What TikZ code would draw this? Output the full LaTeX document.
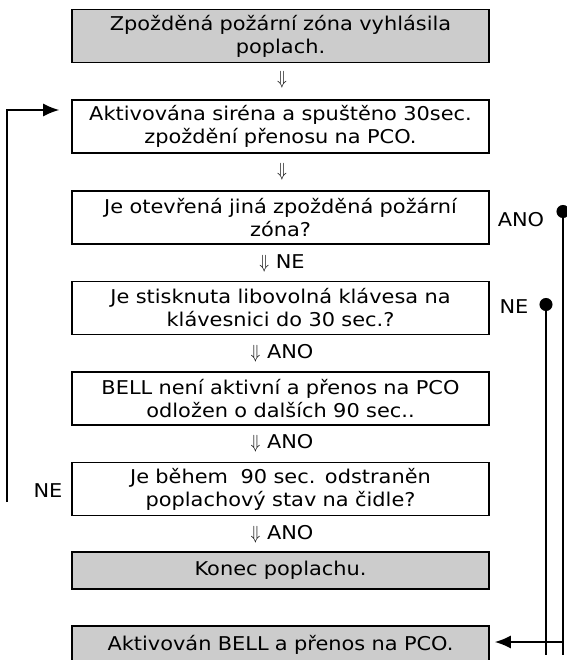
\documentclass[tikz,border=0pt]{standalone}
\usepackage{fontspec}
\usepackage{graphicx}
\setmainfont{DejaVu Sans}[FakeStretch=1.1]
\usetikzlibrary{arrows.meta}
\definecolor{boxgray}{RGB}{204,204,204}
\newcommand{\dn}{\scalebox{1.6}[1.9]{\fontsize{10}{12}\selectfont$\Downarrow$}}
\tikzset{
  stepbox/.style={draw, line width=1.6pt, minimum width=417pt, minimum height=53pt,
    text width=410pt, align=center, inner sep=0pt, font=\fontsize{19}{23}\selectfont},
  endbox/.style={stepbox, fill=boxgray, minimum height=37pt},
  lbl/.style={font=\fontsize{19}{23}\selectfont, inner sep=0pt},
}
\begin{document}
\begin{tikzpicture}[x=1pt, y=-1pt, >={Latex[length=16pt,width=13pt]}, line width=1.6pt]
\useasboundingbox (0,0) rectangle (566,660);

%%%%%%%%%%%% steps
  \node[stepbox, fill=boxgray] (alarm) at (280.5,36) {Zpožděná požární zóna vyhlásila\\poplach.};
  \node[stepbox] (siren) at (280.5,126.5) {Aktivována siréna a spuštěno 30sec.\\zpoždění přenosu na PCO.};
  \node[stepbox] (other) at (280.5,217.5) {Je otevřená jiná zpožděná požární\\zóna?};
  \node[stepbox] (key) at (280.5,308) {Je stisknuta libovolná klávesa na\\klávesnici do 30 sec.?};
  \node[stepbox] (delay) at (280.5,398.5) {BELL není aktivní a přenos na PCO\\odložen o dalších 90 sec..};
  \node[stepbox] (sensor) at (280.5,489) {Je během~ 90 sec. odstraněn\\poplachový stav na čidle?};
  \node[endbox] (stop) at (280.5,570.5) {Konec poplachu.};
  \node[endbox] (bell) at (280.5,644.5) {Aktivován BELL a přenos na PCO.};

  \foreach \y/\txt [count=\i] in {80/{}, 172/{}, 263/NE, 353/ANO, 443/ANO, 534/ANO}
    \node[lbl] (down\i) at (282,\y) {\dn\ \txt\unskip};

%%%%%%%%%%%% answers
  \node[lbl] (anoOther) at (521,220) {ANO};
  \node[lbl] (neKey) at (514,307) {NE};
  \node[lbl] (neSensor) at (48,491) {NE};

  \coordinate (loopStart) at (7,502);
  \draw[->, shorten >=12pt] (loopStart) |- ([yshift=16.5pt]siren.west);

  \coordinate (anoDot) at (563,205);
  \coordinate (anoEnd) at (563,655);
  \coordinate (neDot) at (546,298);
  \coordinate (neEnd) at (546,655);
  \coordinate (bellIn) at ([yshift=2.5pt]bell.east);
  \draw[{Circle[length=13pt]}-] (anoDot) -- (anoEnd);
  \draw[{Circle[length=13pt]}-] (neDot) -- (neEnd);
  \draw[->, shorten >=5pt] (anoEnd |- bellIn) -- (bellIn);
\end{tikzpicture}
\end{document}
